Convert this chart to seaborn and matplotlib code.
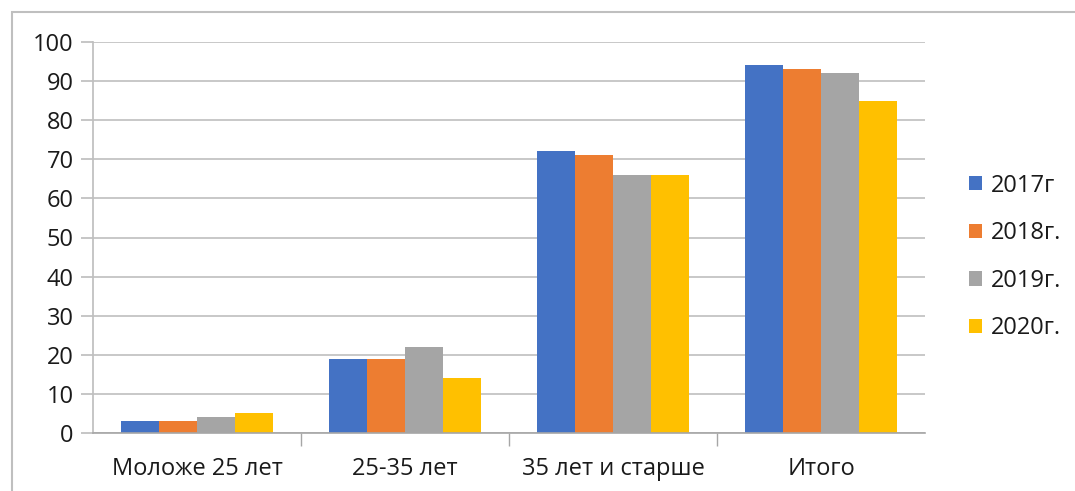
import matplotlib
matplotlib.use("Agg")
import matplotlib.pyplot as plt
import seaborn as sns
import pandas as pd
from matplotlib.patches import Rectangle

categories = ["Моложе 25 лет", "25-35 лет", "35 лет и старше", "Итого"]
years = ["2017г", "2018г.", "2019г.", "2020г."]
v2017 = [3, 19, 72, 94]
v2018 = [3, 19, 71, 93]
v2019 = [4, 22, 66, 92]
v2020 = [5, 14, 66, 85]
colors = ["#4472C4", "#ED7D31", "#A5A5A5", "#FFC000"]

rows = []
for yr, vals in zip(years, [v2017, v2018, v2019, v2020]):
    for c, v in zip(categories, vals):
        rows.append({"cat": c, "year": yr, "val": v})
df = pd.DataFrame(rows)

sns.set_theme(style="white")
plt.rcParams["font.family"] = ["Open Sans", "DejaVu Sans"]

W, H = 1075, 491
fig = plt.figure(figsize=(W / 100, H / 100), dpi=100)
ax = fig.add_axes([93 / W, 1 - 433 / H, (925 - 93) / W, (433 - 42) / H])

sns.barplot(data=df, x="cat", y="val", hue="year", palette=colors,
            order=categories, hue_order=years, width=0.73, saturation=1,
            ax=ax, legend=True)
for p in ax.patches:
    p.set_edgecolor("none")

ax.set_ylim(0, 100)
ax.set_yticks(range(0, 101, 10))
ax.set_xlim(-0.5, 3.5)
ax.set_xlabel("")
ax.set_ylabel("")
ax.yaxis.grid(True, color="#BFBFBF", linewidth=1.2)
ax.set_axisbelow(True)
for s in ["top", "right"]:
    ax.spines[s].set_visible(False)
ax.spines["left"].set_color("#BFBFBF")
ax.spines["bottom"].set_color("#A6A6A6")
ax.spines["bottom"].set_linewidth(1.2)
ax.tick_params(axis="y", left=True, length=9, color="#BFBFBF", labelsize=17, pad=5, labelcolor="#1a1a1a")
ax.tick_params(axis="x", bottom=False, labelsize=17, pad=11, labelcolor="#1a1a1a")
# category separators
ax.set_xticks([0.5, 1.5, 2.5], minor=True)
ax.tick_params(axis="x", which="minor", bottom=True, length=9, color="#A6A6A6", direction="out")

handles, labels = ax.get_legend_handles_labels()
ax.legend(handles, labels, loc="center left", bbox_to_anchor=(948 / W, 1 - 257 / H),
          bbox_transform=fig.transFigure, frameon=False, fontsize=17,
          handlelength=0.55, handleheight=0.55, handletextpad=0.35, labelspacing=1.0)
for t in ax.get_legend().get_texts():
    t.set_color("#1a1a1a")

fig.patches.append(Rectangle((12 / W, -0.1), 1.2, 1 - 12 / H + 0.1, transform=fig.transFigure,
                             fill=False, edgecolor="#BFBFBF", linewidth=1.5))

fig.savefig("out.png", dpi=100)
